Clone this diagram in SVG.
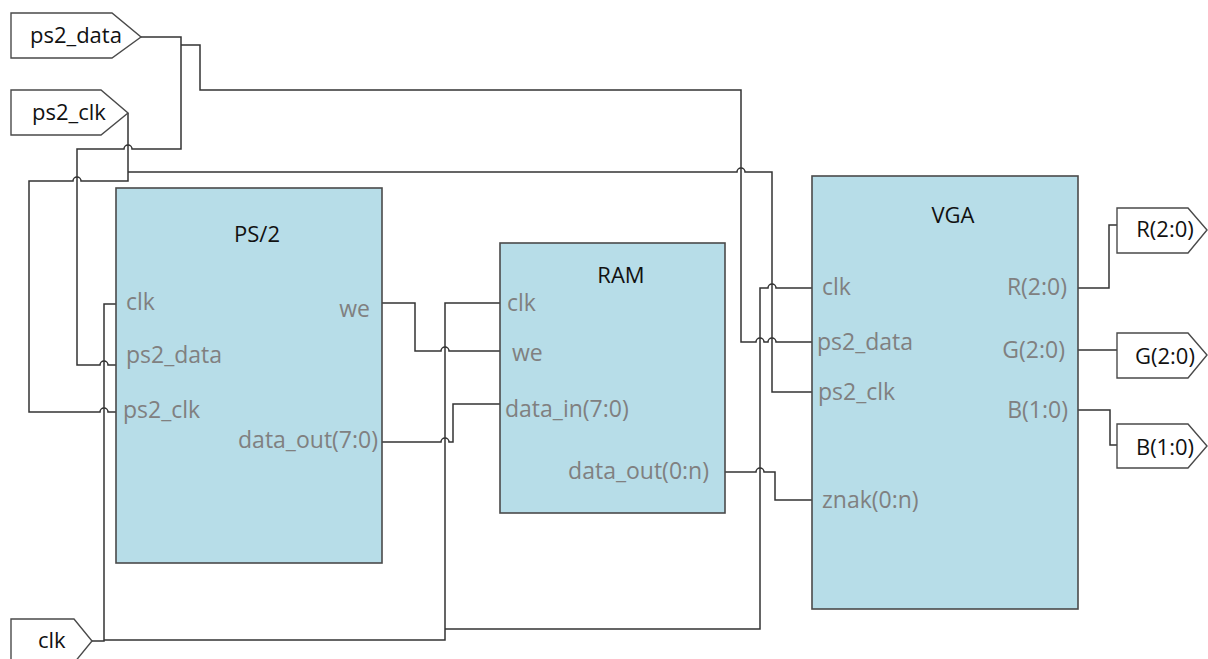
<svg xmlns="http://www.w3.org/2000/svg" width="1208" height="659" viewBox="0 0 1208 659">
<style>
.box{fill:#b7dde8;stroke:#4a4a4a;stroke-width:1.6}
.io{fill:#ffffff;stroke:#4a4a4a;stroke-width:1.4}
.w{fill:none;stroke:#333333;stroke-width:1.5}
text{font-family:"Open Sans","Noto Sans","Liberation Sans",sans-serif;font-size:22px}
.t{fill:#111111}
.p{fill:#808080;font-size:23px}
.e{text-anchor:end}
.m{text-anchor:middle}
</style>
<rect width="1208" height="659" fill="#ffffff"/>
<g id="connectors">
<path class="w" d="M141,37 H181 V149 H132 a4,4 0 0 0 -8,0 H77 V365 H100 a4,4 0 0 1 8,0 H116"/>
<path class="w" d="M181,45 H200 V90 H741 V342 H756 a4,4 0 0 1 8,0 H768 a4,4 0 0 1 8,0 H812"/>
<path class="w" d="M128,113 V181 H81 a4,4 0 0 0 -8,0 H29 V412 H100 a4,4 0 0 1 8,0 H116"/>
<path class="w" d="M128,172 H737 a4,4 0 0 1 8,0 H772 V392 H812"/>
<path class="w" d="M92,641 H104 V304 H116"/>
<path class="w" d="M104,640 H445 V303 H500"/>
<path class="w" d="M445,629 H760 V288 H768 a4,4 0 0 1 8,0 H812"/>
<path class="w" d="M382,303 H415 V351 H441 a4,4 0 0 1 8,0 H500"/>
<path class="w" d="M382,442 H441 a4,4 0 0 1 8,0 H453 V404 H500"/>
<path class="w" d="M725,472 H756 a4,4 0 0 1 8,0 H775 V500 H812"/>
<path class="w" d="M1078,288 H1109 V225 H1117"/>
<path class="w" d="M1078,350 H1117"/>
<path class="w" d="M1078,410 H1110 V445 H1117"/>
</g>
<g id="in_ps2_data">
<polygon class="io" points="11,13 112,13 141,37 112,58 11,58"/>
<text class="t" x="30" y="43">ps2_data</text>
</g>
<g id="in_ps2_clk">
<polygon class="io" points="11,90 101,90 128,113 101,135 11,135"/>
<text class="t" x="32" y="120">ps2_clk</text>
</g>
<g id="in_clk">
<polygon class="io" points="11,619 74,619 92,641 74,663 11,663"/>
<text class="t" x="38" y="648">clk</text>
</g>
<g id="ps2">
<rect class="box" x="116" y="188" width="266" height="375"/>
<text class="t m" x="257" y="242">PS/2</text>
<text class="p" x="126" y="310">clk</text>
<text class="p" x="126" y="363">ps2_data</text>
<text class="p" x="123" y="418">ps2_clk</text>
<text class="p e" x="370" y="317">we</text>
<text class="p e" x="378" y="448">data_out(7:0)</text>
</g>
<g id="ram">
<rect class="box" x="500" y="243" width="225" height="270"/>
<text class="t m" x="621" y="283">RAM</text>
<text class="p" x="507" y="311">clk</text>
<text class="p" x="512" y="361">we</text>
<text class="p" x="505" y="417">data_in(7:0)</text>
<text class="p e" x="709" y="479">data_out(0:n)</text>
</g>
<g id="vga">
<rect class="box" x="812" y="176" width="266" height="433"/>
<text class="t m" x="953" y="223">VGA</text>
<text class="p" x="822" y="295">clk</text>
<text class="p" x="817" y="350">ps2_data</text>
<text class="p" x="818" y="400">ps2_clk</text>
<text class="p" x="822" y="508">znak(0:n)</text>
<text class="p e" x="1067" y="295">R(2:0)</text>
<text class="p e" x="1065" y="358">G(2:0)</text>
<text class="p e" x="1068" y="418">B(1:0)</text>
</g>
<g id="out_R">
<polygon class="io" points="1117,208 1188,208 1207,230 1188,253 1117,253"/>
<text class="t m" x="1165" y="237">R(2:0)</text>
</g>
<g id="out_G">
<polygon class="io" points="1117,333 1188,333 1207,355 1188,378 1117,378"/>
<text class="t m" x="1165" y="364">G(2:0)</text>
</g>
<g id="out_B">
<polygon class="io" points="1117,424 1188,424 1207,446 1188,468 1117,468"/>
<text class="t m" x="1165" y="455">B(1:0)</text>
</g>
</svg>
